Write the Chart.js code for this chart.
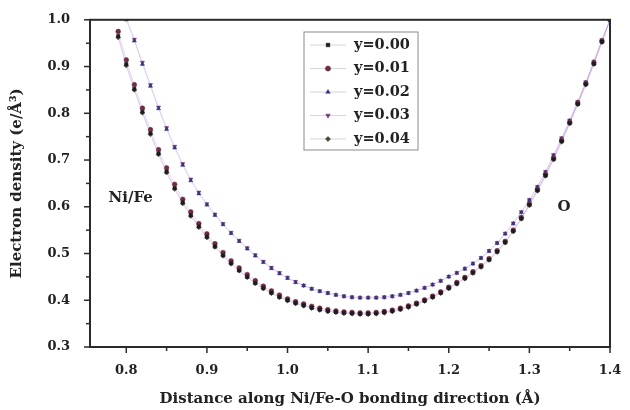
<!DOCTYPE html>
<html><head><meta charset="utf-8">
<script src="https://cdn.jsdelivr.net/npm/chart.js@4/dist/chart.umd.min.js"></script>
<style>html,body{margin:0;padding:0;background:#fff}#wrap{position:relative;width:630px;height:410px}</style>
</head><body><div id="wrap"><canvas id="c" width="630" height="410"></canvas></div>
<script>
const xValues = [0.79,0.80,0.81,0.82,0.83,0.84,0.85,0.86,0.87,0.88,0.89,0.90,0.91,0.92,0.93,0.94,0.95,0.96,0.97,0.98,0.99,
  1.00,1.01,1.02,1.03,1.04,1.05,1.06,1.07,1.08,1.09,1.10,1.11,1.12,1.13,1.14,1.15,1.16,1.17,1.18,1.19,
  1.20,1.21,1.22,1.23,1.24,1.25,1.26,1.27,1.28,1.29,1.30,1.31,1.32,1.33,1.34,1.35,1.36,1.37,1.38,1.39,1.40];

const seriesLabels = ['y=0.00','y=0.01','y=0.02','y=0.03','y=0.04'];

const y000 = [0.965,0.905,0.852,0.803,0.757,0.714,0.675,0.640,0.609,0.582,0.558,0.536,0.515,0.496,0.479,0.464,0.450,0.437,0.426,0.416,0.407,
  0.400,0.394,0.389,0.384,0.380,0.377,0.375,0.373,0.372,0.371,0.371,0.372,0.374,0.377,0.381,0.386,0.392,0.399,0.407,0.416,
  0.426,0.436,0.447,0.459,0.472,0.487,0.504,0.524,0.548,0.575,0.604,0.635,0.667,0.702,0.740,0.779,0.820,0.862,0.906,0.953,1.000];

const y001 = [0.975,0.914,0.861,0.811,0.765,0.722,0.683,0.648,0.616,0.589,0.564,0.542,0.521,0.502,0.484,0.469,0.455,0.442,0.430,0.420,0.411,
  0.403,0.397,0.392,0.387,0.383,0.380,0.377,0.375,0.374,0.373,0.373,0.374,0.376,0.379,0.383,0.388,0.394,0.401,0.409,0.418,
  0.428,0.438,0.449,0.461,0.474,0.489,0.506,0.526,0.550,0.577,0.606,0.637,0.669,0.704,0.742,0.781,0.822,0.864,0.908,0.955,1.000];

const y002 = [null,1.000,0.955,0.905,0.858,0.810,0.766,0.726,0.689,0.656,0.628,0.604,0.582,0.562,0.543,0.526,0.510,0.495,0.481,0.468,0.457,
  0.447,0.438,0.431,0.424,0.419,0.415,0.411,0.408,0.406,0.405,0.405,0.405,0.406,0.408,0.411,0.415,0.420,0.426,0.433,0.441,
  0.450,0.458,0.467,0.478,0.490,0.505,0.522,0.542,0.564,0.588,0.614,0.642,0.674,0.710,0.746,0.784,0.824,0.866,0.910,0.956,1.000];

const y003 = [null,1.004,0.958,0.909,0.861,0.813,0.769,0.729,0.692,0.659,0.631,0.606,0.584,0.564,0.545,0.528,0.512,0.497,0.483,0.470,0.459,
  0.449,0.440,0.432,0.425,0.420,0.416,0.412,0.409,0.407,0.406,0.406,0.406,0.407,0.409,0.412,0.416,0.421,0.427,0.434,0.442,
  0.451,0.459,0.468,0.479,0.491,0.506,0.523,0.543,0.565,0.589,0.615,0.643,0.675,0.711,0.747,0.785,0.825,0.867,0.911,0.957,1.000];

const y004 = [0.962,0.902,0.850,0.801,0.755,0.712,0.673,0.638,0.607,0.580,0.556,0.534,0.514,0.495,0.478,0.463,0.449,0.436,0.425,0.415,0.406,
  0.399,0.393,0.388,0.383,0.379,0.376,0.374,0.372,0.371,0.370,0.370,0.371,0.373,0.376,0.380,0.385,0.391,0.398,0.406,0.415,
  0.425,0.435,0.446,0.458,0.471,0.486,0.503,0.523,0.547,0.574,0.603,0.634,0.666,0.701,0.739,0.778,0.819,0.861,0.905,0.952,1.000];

const xTickLabels = ['0.8','0.9','1.0','1.1','1.2','1.3','1.4'];
const yTickLabels = ['0.3','0.4','0.5','0.6','0.7','0.8','0.9','1.0'];

const colors = ['#1c1c1c','#6e2c40','#35357a','#6a3374','#4a4630'];
const styles = ['rect','circle','triangle','triangle','rectRot'];
const rotations = [0,0,0,180,0];
const allY = [y000,y001,y002,y003,y004];

const datasets = allY.map((arr,i)=>({
  label: seriesLabels[i],
  data: xValues.map((x,j)=>({x:x,y:arr[j]})).filter(p=>p.y!==null),
  showLine: true,
  borderColor: 'rgba(170,120,210,0.25)',
  borderWidth: 1,
  backgroundColor: colors[i],
  pointBorderColor: colors[i],
  pointBackgroundColor: colors[i],
  pointStyle: styles[i],
  pointRotation: rotations[i],
  pointRadius: 2.4,
  pointBorderWidth: 0.5
}));

const FONT = 'DejaVu Serif';
const isMajor = v => Math.abs(v*10 - Math.round(v*10)) < 1e-6;

const framePlugin = {
  id:'frame',
  afterDraw(chart){
    const ctx = chart.ctx, a = chart.chartArea;
    const xs = chart.scales.x, ys = chart.scales.y;
    ctx.save();
    ctx.strokeStyle = '#2a2a2a';
    ctx.lineWidth = 2;
    ctx.strokeRect(a.left, a.top, a.right-a.left, a.bottom-a.top);
    ctx.lineWidth = 1.5;
    xs.ticks.forEach(t=>{
      const p = xs.getPixelForValue(t.value);
      const len = isMajor(t.value) ? 6 : 4;
      ctx.beginPath(); ctx.moveTo(p, a.bottom); ctx.lineTo(p, a.bottom+len); ctx.stroke();
    });
    ys.ticks.forEach(t=>{
      const p = ys.getPixelForValue(t.value);
      const len = isMajor(t.value) ? 6 : 4;
      ctx.beginPath(); ctx.moveTo(a.left, p); ctx.lineTo(a.left-len, p); ctx.stroke();
    });
    // annotations
    ctx.fillStyle = '#222';
    ctx.font = 'bold 15px "'+FONT+'"';
    ctx.textAlign = 'left'; ctx.textBaseline = 'middle';
    ctx.fillText('Ni/Fe', xs.getPixelForValue(0.778), ys.getPixelForValue(0.618));
    ctx.fillText('O', xs.getPixelForValue(1.335), ys.getPixelForValue(0.60));
    // legend
    const lx = 304, ly = 32, lw = 114, lh = 118;
    ctx.fillStyle = '#fff';
    ctx.fillRect(lx, ly, lw, lh);
    ctx.strokeStyle = '#8a8a8a'; ctx.lineWidth = 1;
    ctx.strokeRect(lx, ly, lw, lh);
    chart.data.datasets.forEach((ds,i)=>{
      const y = ly + 13 + i*23.5;
      ctx.strokeStyle = 'rgba(150,150,170,0.5)'; ctx.lineWidth = 0.8;
      ctx.beginPath(); ctx.moveTo(lx+6, y); ctx.lineTo(lx+42, y); ctx.stroke();
      ctx.fillStyle = ds.pointBackgroundColor; ctx.strokeStyle = ds.pointBorderColor; ctx.lineWidth = 0.5;
      Chart.helpers.drawPoint(ctx, {pointStyle: ds.pointStyle, radius: 2.6, rotation: ds.pointRotation, borderWidth: 0.5}, lx+24, y);
      ctx.fillStyle = '#222';
      ctx.font = 'bold 14.5px "'+FONT+'"';
      ctx.textAlign = 'left'; ctx.textBaseline = 'middle';
      ctx.fillText(ds.label, lx+50, y);
    });
    ctx.restore();
  }
};

new Chart(document.getElementById('c'), {
  type:'scatter',
  data:{datasets},
  plugins:[framePlugin],
  options:{
    responsive:false,
    animation:false,
    layout:{padding:{top:19,right:20,left:0,bottom:0}},
    plugins:{legend:{display:false}, tooltip:{enabled:false}},
    scales:{
      x:{
        type:'linear', min:0.755, max:1.4,
        afterFit(s){ s.height = 63; },
        grid:{display:false}, border:{display:false},
        ticks:{stepSize:0.05, includeBounds:false, autoSkip:false, maxRotation:0, padding:8,
          color:'#222', font:{family:FONT, size:13, weight:'bold'},
          callback:(v)=> isMajor(v) ? xTickLabels[Math.round(v*10)-8] : ''},
        title:{display:true, text:'Distance along Ni/Fe-O bonding direction (Å)', color:'#222',
          font:{family:FONT, size:15, weight:'bold'}, padding:{top:4,bottom:2}}
      },
      y:{
        type:'linear', min:0.3, max:1.0,
        afterFit(s){ s.width = 90; },
        grid:{display:false}, border:{display:false},
        ticks:{stepSize:0.05, includeBounds:false, autoSkip:false, padding:12,
          color:'#222', font:{family:FONT, size:13, weight:'bold'},
          callback:(v)=> isMajor(v) ? yTickLabels[Math.round(v*10)-3] : ''},
        title:{display:true, text:'Electron density (e/Å³)', color:'#222',
          font:{family:FONT, size:15, weight:'bold'}, padding:{top:8,bottom:4}}
      }
    }
  }
});
</script>
</body></html>
